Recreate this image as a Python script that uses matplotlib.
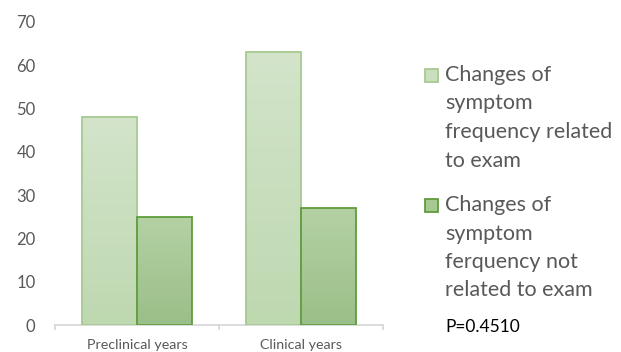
import matplotlib
matplotlib.use("Agg")
import matplotlib.pyplot as plt
import numpy as np
from matplotlib.colors import LinearSegmentedColormap
from matplotlib.patches import Rectangle

categories = ["Preclinical years", "Clinical years"]
related = [48, 63]
not_related = [25, 27]
series_labels = ["Changes of\nsymptom\nfrequency related\nto exam",
                 "Changes of\nsymptom\nferquency not\nrelated to exam"]
yticks = [0, 10, 20, 30, 40, 50, 60, 70]
pval_text = "P=0.4510"

plt.rcParams['font.family'] = ['Lato', 'DejaVu Sans']

W, H = 621, 352
fig = plt.figure(figsize=(W/100, H/100), dpi=100)
ax = fig.add_axes([55/W, 27/H, 328/W, 303/H])

x = np.arange(len(categories))
w = 0.335
light_face, light_edge = "#c9dfbd", "#a6ca90"
dark_face, dark_edge = "#a6c893", "#5e9c3f"
b1 = ax.bar(x - w/2, related, w, color=light_face, edgecolor=light_edge, linewidth=1.3, zorder=2)
b2 = ax.bar(x + w/2, not_related, w, color=dark_face, edgecolor=dark_edge, linewidth=1.3, zorder=2)

def grad(bars, top, bottom):
    cmap = LinearSegmentedColormap.from_list("g", [bottom, top])
    for r in bars:
        x0, y0 = r.get_x(), r.get_y()
        ww, hh = r.get_width(), r.get_height()
        im = ax.imshow(np.linspace(0, 1, 100).reshape(-1, 1), cmap=cmap, origin="lower",
                       extent=[x0, x0 + ww, y0, y0 + hh], aspect="auto", zorder=2.5)
        im.set_clip_path(r)
        r.set_facecolor("none")
        r.set_zorder(3)

grad(b1, "#d3e4ca", "#bed8b0")
grad(b2, "#b4d1a4", "#9bbf88")

ax.set_xlim(-0.5, 1.5)
ax.set_ylim(0, 70)
ax.set_yticks(yticks)
ax.set_xticks(x)
ax.set_xticklabels(categories, fontsize=10.3, color="#595959")
ax.tick_params(axis="y", length=0, labelsize=12, labelcolor="#595959", pad=14)
ax.tick_params(axis="x", length=0, pad=10)
for s in ["top", "right", "left"]:
    ax.spines[s].set_visible(False)
ax.spines["bottom"].set_color("#d9d9d9")
ax.spines["bottom"].set_linewidth(1.3)
for xb in [-0.5, 0.5, 1.5]:
    ax.plot([xb, xb], [0, -1.0], color="#d9d9d9", lw=1.3, clip_on=False, zorder=1)

# legend drawn manually (handle aligned with first line)
entries = [(series_labels[0], light_face, light_edge, 75),
           (series_labels[1], dark_face, dark_edge, 205)]
for label, fc, ec, ytop in entries:
    fig.patches.append(Rectangle((425/W, 1 - (ytop + 7)/H), 13/W, 13/H,
                                 transform=fig.transFigure, facecolor=fc,
                                 edgecolor=ec, linewidth=1.3))
    for i, line in enumerate(label.split("\n")):
        fig.text(445/W, 1 - (ytop + i*28.5)/H, line, fontsize=15.5,
                 color="#595959", va="center", ha="left")

fig.text(445/W, 1 - 327/H, pval_text, fontsize=12.5, color="#000000", va="center")

fig.savefig("out.png", dpi=100)
